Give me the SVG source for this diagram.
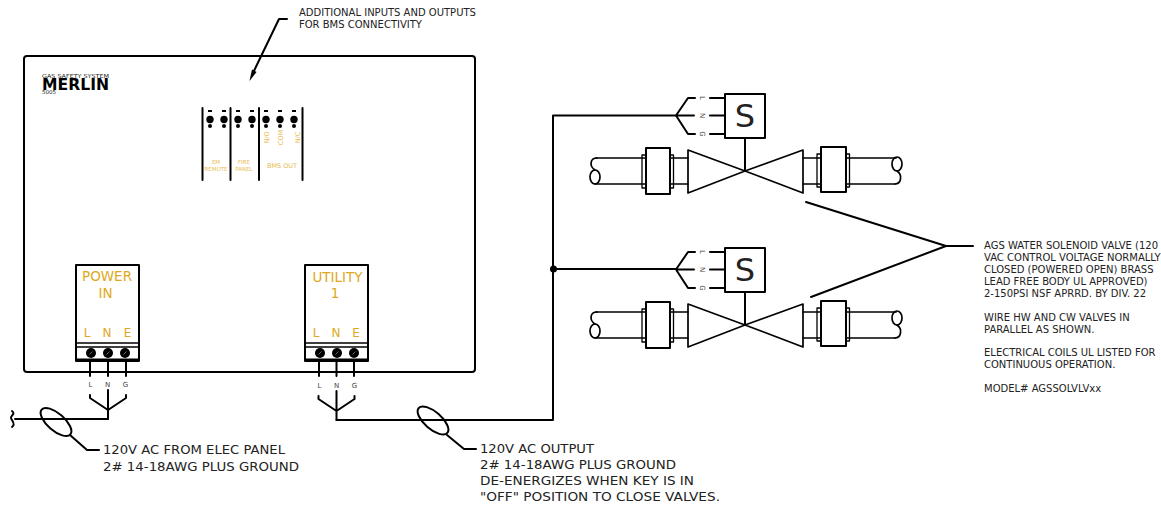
<svg xmlns="http://www.w3.org/2000/svg" width="1161" height="507" viewBox="0 0 1161 507">
<defs>
<style>
text{font-family:"DejaVu Sans","Liberation Sans",sans-serif;fill:#222}
.l{fill:none;stroke:#000;stroke-width:2;stroke-linecap:round;stroke-linejoin:round}
.v{fill:none;stroke:#000;stroke-width:1.7;stroke-linecap:round;stroke-linejoin:round}
.t{fill:none;stroke:#000;stroke-width:1.3;stroke-linejoin:round}
.y{fill:#e0a820}
.s{font-size:10px}
.b{font-size:13px}
.w{font-size:7px;fill:#444;text-anchor:middle}
.p{font-size:5.500px;fill:#e8bc50;text-anchor:middle}
.q{font-size:6.500px;fill:#e8bc50;text-anchor:middle}
.k{fill:#000}
</style>
<g id="fan"><path class="l" d="M0 -23V-20L18 -8L36 -20V-23M18 -28V1"/></g>
<g id="term">
<rect class="l" x="0" y="0" width="63" height="96"/>
<path class="t" d="M0 78H63M0 82H63"/><path d="M0 95H63" stroke="#000" stroke-width="3"/>
<circle class="k" cx="15" cy="88" r="5"/><circle class="k" cx="32" cy="88" r="5"/><circle class="k" cx="49" cy="88" r="5"/>
<path d="M13.500 89.500L16.500 86.500M30.500 89.500L33.500 86.500M47.500 89.500L50.500 86.500" stroke="#666" stroke-width="1"/>
</g>
<g id="valve">
<rect class="l" x="725" y="94" width="40" height="44" fill="#fff"/>
<path class="l" d="M694 115.500H676M695 98H688L676 115.500L688 134H695"/>
<path class="l" d="M710 98H725M710 115.500H725M710 134H725M745 138V171"/>
<path class="v" d="M688 150L745 171L688 193ZM803 150L745 171L803 193Z"/>
<rect class="l" x="646" y="148" width="24" height="46"/><rect class="l" x="821" y="147" width="25" height="45"/>
<rect class="t" x="642" y="155" width="4" height="33"/><rect class="t" x="670" y="155" width="3.500" height="33"/>
<rect class="t" x="817" y="154" width="4" height="33"/><rect class="t" x="846" y="154" width="3.500" height="33"/>
<path class="v" d="M670 158H688M670 184H688M803 158H821M803 184H821M596 158H646M595 184H646M846 158H896M846 184H895"/>
<path class="v" d="M597 158C590 158 589 166 595 170"/>
<ellipse class="v" cx="595" cy="177" rx="5" ry="7"/>
<ellipse class="v" cx="897" cy="164" rx="5" ry="7"/>
<path class="v" d="M897 171C903 175 901 184 895 184"/>
</g>
</defs>

<g id="connectors">
<path class="l" d="M287 19H279L252 75"/><path class="k" d="M249.500 81L252 69.500L256.500 72Z"/>
<path class="l" d="M15 419H108M336.500 420H553V115.500H676M553 269H676"/>
<path class="l" d="M12 411C16 414 10 416 11 418C12 421 16 424 12 427"/>
<circle class="k" cx="553.500" cy="269" r="3.500"/>
<ellipse class="l" cx="56" cy="422" rx="19" ry="8.500" transform="rotate(41 56 422)"/>
<path class="l" d="M70 435L87 450H99"/>
<ellipse class="l" cx="433" cy="420.500" rx="19" ry="8.500" transform="rotate(41 433 420.500)"/>
<path class="l" d="M447 435L464 449H476"/>
<path class="l" d="M806 202L946 246L811 297M946 246H973"/>
<path class="l" d="M90 361V376M108 361V376M126 361V376M319 361V376M336.500 361V376M354 361V376"/>
</g>

<g id="panel"><rect class="l" x="24" y="56" width="451" height="316" rx="3"/></g>

<g id="merlin">
<text x="42" y="78" font-size="5.500" textLength="67" lengthAdjust="spacingAndGlyphs">GAS SAFETY SYSTEM</text>
<text x="42" y="90" font-size="16.500" font-weight="bold" textLength="67" lengthAdjust="spacingAndGlyphs" style="fill:#000">MERLIN</text>
<text x="42" y="94" font-size="5.500">5005</text>
</g>

<g id="bms">
<path class="l" d="M202.500 108V180M230.500 108V180M259 108V180M302.500 108V180"/>
<g class="k">
<circle cx="210" cy="119.500" r="3.700"/><circle cx="224" cy="119.500" r="3.700"/><circle cx="238" cy="119.500" r="3.700"/><circle cx="252" cy="119.500" r="3.700"/><circle cx="266" cy="119.500" r="3.700"/><circle cx="280" cy="119.500" r="3.700"/><circle cx="294" cy="119.500" r="3.700"/>
<circle cx="210" cy="126" r="2"/><circle cx="224" cy="126" r="2"/><circle cx="238" cy="126" r="2"/><circle cx="252" cy="126" r="2"/><circle cx="266" cy="126" r="2"/><circle cx="280" cy="126" r="2"/><circle cx="294" cy="126" r="2"/>
<rect x="208" y="110" width="4" height="2"/><rect x="222" y="110" width="4" height="2"/><rect x="236" y="110" width="4" height="2"/><rect x="250" y="110" width="4" height="2"/><rect x="264" y="110" width="4" height="2"/><rect x="278" y="110" width="4" height="2"/><rect x="292" y="110" width="4" height="2"/>
</g>
<text class="p" x="216" y="164">EM</text><text class="p" x="216" y="171">REMOTE</text>
<text class="p" x="244" y="164">FIRE</text><text class="p" x="244" y="171">PANEL</text>
<text class="q" x="282" y="168">BMS OUT</text>
<text class="q" transform="translate(268.500 137.500) rotate(-90)">N/O</text>
<text class="q" transform="translate(282.500 137.500) rotate(-90)">COM</text>
<text class="q" transform="translate(299.500 137.500) rotate(-90)">N/C</text>
</g>

<g id="power-in">
<use href="#term" x="76" y="265"/>
<text class="y" x="107" y="281" font-size="13.500" text-anchor="middle">POWER</text>
<text class="y" x="105.500" y="298" font-size="13.500" text-anchor="middle">IN</text>
<text class="y" x="87" y="337" font-size="12" text-anchor="middle">L</text>
<text class="y" x="107" y="337" font-size="12" text-anchor="middle">N</text>
<text class="y" x="127.500" y="337" font-size="12" text-anchor="middle">E</text>
<text class="w" x="90.500" y="386.500">L</text><text class="w" x="107.500" y="386.500">N</text><text class="w" x="125.500" y="386.500">G</text>
<use href="#fan" x="90" y="418"/>
</g>

<g id="utility-1">
<use href="#term" x="305" y="265"/>
<text class="y" x="337.500" y="282" font-size="13.500" text-anchor="middle">UTILITY</text>
<text class="y" x="335" y="298" font-size="13.500" text-anchor="middle">1</text>
<text class="y" x="316" y="337" font-size="12" text-anchor="middle">L</text>
<text class="y" x="336" y="337" font-size="12" text-anchor="middle">N</text>
<text class="y" x="356" y="337" font-size="12" text-anchor="middle">E</text>
<text class="w" x="319.500" y="387.500">L</text><text class="w" x="336.500" y="387.500">N</text><text class="w" x="354.500" y="387.500">G</text>
<use href="#fan" x="318.500" y="419"/>
</g>

<g id="valve-1">
<use href="#valve"/>
<text x="745" y="127" font-size="32" text-anchor="middle">S</text>
<text class="w" transform="translate(700 98) rotate(90)">L</text>
<text class="w" transform="translate(700 115.500) rotate(90)">N</text>
<text class="w" transform="translate(700 134) rotate(90)">G</text>
</g>
<g id="valve-2">
<use href="#valve" y="154"/>
<text x="745" y="281" font-size="32" text-anchor="middle">S</text>
<text class="w" transform="translate(700 252) rotate(90)">L</text>
<text class="w" transform="translate(700 269.500) rotate(90)">N</text>
<text class="w" transform="translate(700 288) rotate(90)">G</text>
</g>

<g id="notes">
<text class="s" x="299" y="16">ADDITIONAL INPUTS AND OUTPUTS</text>
<text class="s" x="299" y="28">FOR BMS CONNECTIVITY</text>
<text class="b" x="103" y="454" textLength="182" lengthAdjust="spacingAndGlyphs">120V AC FROM ELEC PANEL</text>
<text class="b" x="103" y="471" textLength="196" lengthAdjust="spacingAndGlyphs">2# 14-18AWG PLUS GROUND</text>
<text class="b" x="480" y="453" textLength="114" lengthAdjust="spacingAndGlyphs">120V AC OUTPUT</text>
<text class="b" x="480" y="469" textLength="196" lengthAdjust="spacingAndGlyphs">2# 14-18AWG PLUS GROUND</text>
<text class="b" x="480" y="485" textLength="214" lengthAdjust="spacingAndGlyphs">DE-ENERGIZES WHEN KEY IS IN</text>
<text class="b" x="480" y="501" textLength="240" lengthAdjust="spacingAndGlyphs">"OFF" POSITION TO CLOSE VALVES.</text>
<text class="s" x="984" y="249">AGS WATER SOLENOID VALVE (120</text>
<text class="s" x="984" y="261">VAC CONTROL VOLTAGE NORMALLY</text>
<text class="s" x="984" y="273">CLOSED (POWERED OPEN) BRASS</text>
<text class="s" x="984" y="285">LEAD FREE BODY UL APPROVED)</text>
<text class="s" x="984" y="297">2-150PSI NSF APRRD. BY DIV. 22</text>
<text class="s" x="984" y="321">WIRE HW AND CW VALVES IN</text>
<text class="s" x="984" y="333">PARALLEL AS SHOWN.</text>
<text class="s" x="984" y="356">ELECTRICAL COILS UL LISTED FOR</text>
<text class="s" x="984" y="368">CONTINUOUS OPERATION.</text>
<text class="s" x="984" y="392">MODEL# AGSSOLVLVxx</text>
</g>
</svg>
